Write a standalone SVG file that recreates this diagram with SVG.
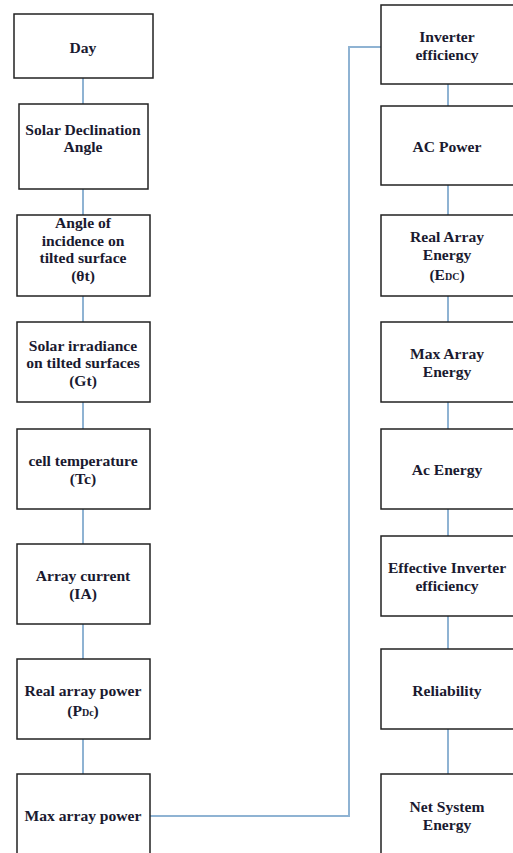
<svg xmlns="http://www.w3.org/2000/svg" width="513" height="853" viewBox="0 0 513 853">
<style>
.box{fill:#fff;stroke:#222;stroke-width:1.5}
.t{font-family:'Liberation Serif','DejaVu Serif',serif;font-weight:700;font-size:15.6px;fill:#1a1a30;text-anchor:middle}
.s{font-size:10px}
.c{fill:none;stroke:#8fb3d3;stroke-width:2}
</style>
<rect width="513" height="853" fill="#fff"/>
<g id="connectors">
<line class="c" x1="83" y1="78" x2="83" y2="104"/>
<line class="c" x1="83" y1="189" x2="83" y2="215"/>
<line class="c" x1="83" y1="296" x2="83" y2="322"/>
<line class="c" x1="83" y1="402" x2="83" y2="429"/>
<line class="c" x1="83" y1="509" x2="83" y2="544"/>
<line class="c" x1="83" y1="624" x2="83" y2="659"/>
<line class="c" x1="83" y1="739" x2="83" y2="774"/>
<polyline class="c" points="150,816 349,816 349,47 381,47"/>
<line class="c" x1="448" y1="84" x2="448" y2="106"/>
<line class="c" x1="448" y1="185" x2="448" y2="215"/>
<line class="c" x1="448" y1="296" x2="448" y2="322"/>
<line class="c" x1="448" y1="402" x2="448" y2="429"/>
<line class="c" x1="448" y1="509" x2="448" y2="536"/>
<line class="c" x1="448" y1="616" x2="448" y2="649"/>
<line class="c" x1="448" y1="729" x2="448" y2="774"/>
</g>
<g id="n1"><rect class="box" x="14" y="14" width="139" height="64"/><text class="t" x="83" y="53">Day</text></g>
<g id="n2"><rect class="box" x="19" y="104" width="129" height="85"/><text class="t" x="83" y="135">Solar Declination</text><text class="t" x="83" y="152">Angle</text></g>
<g id="n3"><rect class="box" x="17" y="215" width="133" height="81"/><text class="t" x="83" y="228">Angle of</text><text class="t" x="83" y="246">incidence on</text><text class="t" x="83" y="263">tilted surface</text><text class="t" x="83" y="281">(θt)</text></g>
<g id="n4"><rect class="box" x="17" y="322" width="133" height="80"/><text class="t" x="83" y="351">Solar irradiance</text><text class="t" x="83" y="368">on tilted surfaces</text><text class="t" x="83" y="386">(Gt)</text></g>
<g id="n5"><rect class="box" x="17" y="429" width="133" height="80"/><text class="t" x="83" y="466">cell temperature</text><text class="t" x="83" y="484">(Tc)</text></g>
<g id="n6"><rect class="box" x="17" y="544" width="133" height="80"/><text class="t" x="83" y="581">Array current</text><text class="t" x="83" y="599">(IA)</text></g>
<g id="n7"><rect class="box" x="17" y="659" width="133" height="80"/><text class="t" x="83" y="696">Real array power</text><text class="t" x="83" y="716">(P<tspan class="s">Dc</tspan>)</text></g>
<g id="n8"><rect class="box" x="17" y="774" width="133" height="90"/><text class="t" x="83" y="821">Max array power</text></g>
<g id="r1"><rect class="box" x="381" y="5" width="140" height="79"/><text class="t" x="447" y="42">Inverter</text><text class="t" x="447" y="60">efficiency</text></g>
<g id="r2"><rect class="box" x="381" y="106" width="140" height="79"/><text class="t" x="447" y="152">AC Power</text></g>
<g id="r3"><rect class="box" x="381" y="215" width="140" height="81"/><text class="t" x="447" y="242">Real Array</text><text class="t" x="447" y="260">Energy</text><text class="t" x="447" y="280">(E<tspan class="s">DC</tspan>)</text></g>
<g id="r4"><rect class="box" x="381" y="322" width="140" height="80"/><text class="t" x="447" y="359">Max Array</text><text class="t" x="447" y="377">Energy</text></g>
<g id="r5"><rect class="box" x="381" y="429" width="140" height="80"/><text class="t" x="447" y="475">Ac Energy</text></g>
<g id="r6"><rect class="box" x="381" y="536" width="140" height="80"/><text class="t" x="447" y="573">Effective Inverter</text><text class="t" x="447" y="591">efficiency</text></g>
<g id="r7"><rect class="box" x="381" y="649" width="140" height="80"/><text class="t" x="447" y="696">Reliability</text></g>
<g id="r8"><rect class="box" x="381" y="774" width="140" height="90"/><text class="t" x="447" y="812">Net System</text><text class="t" x="447" y="830">Energy</text></g>
</svg>
